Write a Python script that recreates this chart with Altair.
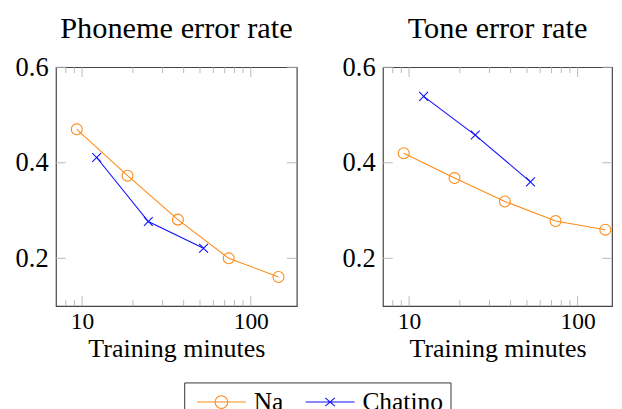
import altair as alt
import pandas as pd

# ---- data ----
series_names = ["Na", "Chatino"]
na_minutes = [9.3, 18.6, 37.0, 74.0, 146.0]
chatino_minutes = [12.2, 24.7, 52.5]
na_phoneme = [0.47, 0.373, 0.281, 0.20, 0.161]
chatino_phoneme = [0.411, 0.277, 0.221]
na_tone = [0.42, 0.368, 0.319, 0.278, 0.26]
chatino_tone = [0.539, 0.458, 0.36]
panel_titles = ["Phoneme error rate", "Tone error rate"]
x_label_values = [10, 100]
x_major_ticks = [10, 100]
x_minor_ticks = [8, 9, 20, 30, 40, 50, 60, 70, 80, 90]
y_tick_values = [0.2, 0.4, 0.6]

ORANGE = "#ff8a14"
BLUE = "#1010ff"
FONT = "Liberation Serif"
TICK = "#b8b8b8"
CROSS = "M-1,-1L1,1M-1,1L1,-1"
# legend glyphs: line with marker (unit = 7px for symbolSize 196), drawn to the right of the symbol slot
NA_LEG = "M-1,0L6.14,0M3.5,0A0.93,0.93,0,1,1,1.64,0A0.93,0.93,0,1,1,3.5,0"
CH_LEG = "M-1,0L6.14,0M1.87,-0.6L3.27,0.6M1.87,0.6L3.27,-0.6"


def panel_df(na_vals, ch_vals):
    rows = [{"series": "Na", "minutes": m, "rate": r} for m, r in zip(na_minutes, na_vals)]
    rows += [{"series": "Chatino", "minutes": m, "rate": r} for m, r in zip(chatino_minutes, ch_vals)]
    return pd.DataFrame(rows)


def make_panel(df, title, width, height, xmax, with_legend):
    xs = alt.Scale(type="log", domain=[7, xmax], nice=False)
    ys = alt.Scale(domain=[0.1, 0.6], nice=False, zero=False)
    x_axis = alt.Axis(values=x_label_values, title="Training minutes", ticks=False,
                      domain=False, grid=False, labelFlush=False, format="d",
                      labelPadding=4, titlePadding=3, labelFontSize=24,
                      titleFontSize=26.5, titleFontWeight="normal")
    y_axis = alt.Axis(values=y_tick_values, title=None, ticks=False, domain=False,
                      grid=False, format=".1f", labelPadding=8, labelFontSize=27)
    x_main = alt.X("minutes:Q", scale=xs, axis=x_axis)
    y_main = alt.Y("rate:Q", scale=ys, axis=y_axis)
    base = alt.Chart(df)
    layers = []
    for name, color in [("Na", ORANGE), ("Chatino", BLUE)]:
        layers.append(base.transform_filter(alt.datum.series == name)
                      .mark_line(color=color, strokeWidth=1.1)
                      .encode(x=x_main, y=y_main))
    layers.append(base.transform_filter(alt.datum.series == "Na")
                  .mark_point(shape="circle", filled=False, color=ORANGE, size=125, strokeWidth=1.1, opacity=1)
                  .encode(x=x_main, y=y_main))
    layers.append(base.transform_filter(alt.datum.series == "Chatino")
                  .mark_point(shape=CROSS, filled=False, color=BLUE, size=81, strokeWidth=1.1, opacity=1)
                  .encode(x=x_main, y=y_main))

    # inward ticks (same fields/axes so that the axes merge)
    xmaj = pd.DataFrame({"minutes": x_major_ticks})
    xmin = pd.DataFrame({"minutes": x_minor_ticks})
    ytk = pd.DataFrame({"rate": y_tick_values})
    for d, ln in [(xmaj, 10), (xmin, 6)]:
        layers.append(alt.Chart(d).mark_rule(color=TICK, strokeWidth=1)
                      .encode(x=x_main, y=alt.value(0), y2=alt.value(ln)))
        layers.append(alt.Chart(d).mark_rule(color=TICK, strokeWidth=1)
                      .encode(x=x_main, y=alt.value(height), y2=alt.value(height - ln)))
    layers.append(alt.Chart(ytk).mark_rule(color=TICK, strokeWidth=1)
                  .encode(y=y_main, x=alt.value(0), x2=alt.value(10)))
    layers.append(alt.Chart(ytk).mark_rule(color=TICK, strokeWidth=1)
                  .encode(y=y_main, x=alt.value(width), x2=alt.value(width - 10)))

    if with_legend:
        lg = alt.Legend(title=None, orient="none", direction="horizontal", legendX=131, legendY=322)
        leg = (base.transform_filter("false")
               .mark_point(filled=False, strokeWidth=1.1, opacity=1)
               .encode(x=x_main, y=y_main,
                       color=alt.Color("series:N",
                                       scale=alt.Scale(domain=series_names, range=[ORANGE, BLUE]),
                                       legend=lg),
                       shape=alt.Shape("series:N",
                                       scale=alt.Scale(domain=series_names, range=[NA_LEG, CH_LEG]),
                                       legend=lg)))
        layers.append(leg)

    return alt.layer(*layers).properties(
        width=width, height=height,
        title=alt.TitleParams(title, fontSize=31, font=FONT, fontWeight="normal", offset=9, color="black"))


p1 = make_panel(panel_df(na_phoneme, chatino_phoneme), panel_titles[0], 246, 244, 187.5, True)
p2 = make_panel(panel_df(na_tone, chatino_tone), panel_titles[1], 234, 244, 160, False)

chart = (alt.hconcat(p1, p2, spacing=43)
         .properties(padding={"left": 6, "top": 0, "right": 0, "bottom": 0})
         .configure(font=FONT)
         .configure_view(stroke="#444444", strokeWidth=1.2)
         .configure_axis(labelFont=FONT, titleFont=FONT, labelColor="black", titleColor="black")
         .configure_legend(labelFont=FONT, labelFontSize=26, labelColor="black",
                           symbolSize=196, symbolStrokeWidth=1.1, strokeColor="#333333",
                           padding=7, columnPadding=16, labelOffset=38, symbolType="circle"))

chart.save("out.html", embed_options={"renderer": "svg", "actions": False})
